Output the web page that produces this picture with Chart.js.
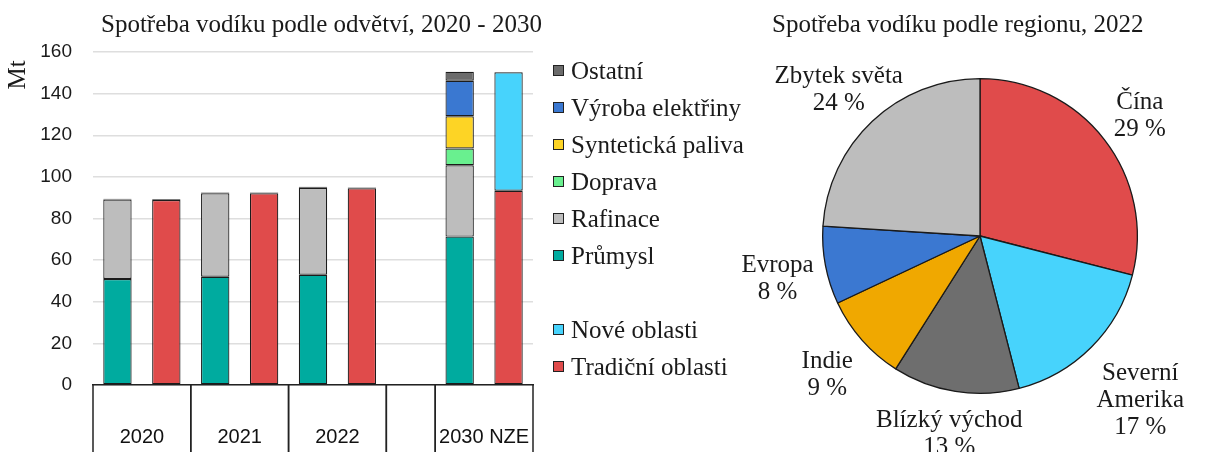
<!DOCTYPE html>
<html>
<head>
<meta charset="utf-8">
<script src="https://cdn.jsdelivr.net/npm/chart.js@4.4.1/dist/chart.umd.min.js"></script>
<style>
body { margin: 0; width: 1215px; height: 452px; overflow: hidden; background: #fff; position: relative; font-family: "Liberation Serif", "Times New Roman", serif; color: #1a1a1a; }
canvas { position: absolute; top: 0; }
#barChart { left: 0; }
#pieChart { left: 700px; }
.title { position: absolute; font-size: 25px; line-height: 28px; white-space: nowrap; }
#legend { position: absolute; left: 553px; top: 52px; }
.item { height: 37px; display: flex; align-items: center; font-size: 25px; white-space: nowrap; }
.box { width: 9px; height: 9px; border: 1px solid #222; margin-right: 7px; }
#mt { position: absolute; left: -3px; top: 61px; width: 40px; height: 28px; line-height: 28px; text-align: center; font-size: 25px; transform: rotate(-90deg); }
</style>
</head>
<body>
<canvas id="barChart" width="545" height="452"></canvas>
<canvas id="pieChart" width="515" height="452"></canvas>
<div class="title" style="left:101px; top:10px;">Spotřeba vodíku podle odvětví, 2020 - 2030</div>
<div class="title" style="left:772px; top:10px;">Spotřeba vodíku podle regionu, 2022</div>
<div id="mt">Mt</div>
<div id="legend"></div>
<script>
const categories = ['2020', '2021', '2022', '2030 NZE'];

// sector split (first bar of each year)
const prumysl = [50.9, 52.0, 53.0, 71.3];
const rafinace = [38.2, 40.1, 41.8, 34.3];
const doprava = [0, 0, 0, 8.0];
const syntetickaPaliva = [0, 0, 0, 15.5];
const vyrobaElektriny = [0, 0, 0, 17.1];
const ostatni = [0.4, 0.4, 0.4, 4.3];

// traditional vs new uses (second bar)
const tradicniOblasti = [88.9, 92.1, 94.5, 93.3];
const noveOblasti = [0.4, 0.4, 0.4, 57.0];

const yMin = 0, yMax = 160, yStep = 20;

const regions = ['Čína', 'Severní\nAmerika', 'Blízký východ', 'Indie', 'Evropa', 'Zbytek světa'];
const regionShares = [29, 17, 13, 9, 8, 24];

const sectorSeries = [
  { label: 'Průmysl', values: prumysl, color: '#00AB9F' },
  { label: 'Rafinace', values: rafinace, color: '#BDBDBD' },
  { label: 'Doprava', values: doprava, color: '#69F08F' },
  { label: 'Syntetická paliva', values: syntetickaPaliva, color: '#FDD425' },
  { label: 'Výroba elektřiny', values: vyrobaElektriny, color: '#3A78D1' },
  { label: 'Ostatní', values: ostatni, color: '#6B6B6B' }
];
const regionSeries = [
  { label: 'Tradiční oblasti', values: tradicniOblasti, color: '#E04B4B' },
  { label: 'Nové oblasti', values: noveOblasti, color: '#47D3FC' }
];
const pieColors = ['#E04B4B', '#47D3FC', '#6E6E6E', '#F0A800', '#3B78D1', '#BDBDBD'];

// two bar slots per year, one empty slot before the 2030 scenario
const slots = [];
categories.forEach((c, i) => {
  if (c === '2030 NZE') slots.push({ cat: null, kind: null });
  slots.push({ cat: i, kind: 'sector' });
  slots.push({ cat: i, kind: 'region' });
});

function slotData(values, kind) {
  return slots.map(s => (s.kind === kind && values[s.cat]) ? values[s.cat] : null);
}

const datasets = [];
sectorSeries.forEach(s => datasets.push({ label: s.label, data: slotData(s.values, 'sector'), backgroundColor: s.color }));
regionSeries.forEach(s => datasets.push({ label: s.label, data: slotData(s.values, 'region'), backgroundColor: s.color }));
datasets.forEach(d => {
  d.borderColor = '#1c1c1c';
  d.borderWidth = 1.2;
  d.borderSkipped = false;
  d.barPercentage = 0.58;
  d.categoryPercentage = 1;
  d.stack = 'all';
});

// html legend, sectors top-down, then a gap, then the region split
const legendItems = sectorSeries.slice().reverse().concat([null], regionSeries.slice().reverse());
const legendEl = document.getElementById('legend');
legendItems.forEach(s => {
  const row = document.createElement('div');
  row.className = 'item';
  if (s) row.innerHTML = '<span class="box" style="background:' + s.color + '"></span>' + s.label;
  legendEl.appendChild(row);
});

const groupAxis = {
  id: 'groupAxis',
  afterDraw(chart) {
    const x = chart.scales.x;
    const ctx = chart.ctx;
    const w = x.width / slots.length;
    const runs = [];
    slots.forEach((s, i) => {
      const last = runs[runs.length - 1];
      if (last && last.cat === s.cat) last.end = i;
      else runs.push({ cat: s.cat, start: i, end: i });
    });
    ctx.save();
    ctx.strokeStyle = '#222';
    ctx.lineWidth = 1.5;
    ctx.fillStyle = '#111';
    ctx.font = '20px "Liberation Sans", Arial, sans-serif';
    ctx.textAlign = 'center';
    ctx.textBaseline = 'middle';
    runs.forEach(r => {
      const l = x.left + r.start * w;
      const rr = x.left + (r.end + 1) * w;
      [l, rr].forEach(px => {
        ctx.beginPath();
        ctx.moveTo(px, x.top);
        ctx.lineTo(px, chart.height);
        ctx.stroke();
      });
      if (r.cat !== null) ctx.fillText(categories[r.cat], (l + rr) / 2, 437);
    });
    ctx.restore();
  }
};

new Chart(document.getElementById('barChart'), {
  type: 'bar',
  data: { labels: slots.map((s, i) => String(i)), datasets: datasets },
  options: {
    responsive: false,
    animation: false,
    layout: { padding: { top: 52, right: 12, left: 0, bottom: 0 } },
    plugins: { legend: { display: false }, tooltip: { enabled: false } },
    scales: {
      x: {
        stacked: true,
        grid: { display: false },
        border: { display: true, color: '#222', width: 1.5 },
        ticks: { display: false },
        afterFit(scale) { scale.height = 67; }
      },
      y: {
        stacked: true,
        min: yMin,
        max: yMax,
        ticks: { stepSize: yStep, padding: 21, color: '#1a1a1a', font: { family: '"Liberation Sans", Arial, sans-serif', size: 19 } },
        grid: { color: '#dedede', lineWidth: 1.5, drawTicks: false },
        border: { display: false },
        afterFit(scale) { scale.width = 93; }
      }
    }
  },
  plugins: [groupAxis]
});

const pieLabels = {
  id: 'pieLabels',
  afterDatasetsDraw(chart) {
    const ctx = chart.ctx;
    const meta = chart.getDatasetMeta(0);
    const lineH = 27;
    ctx.save();
    ctx.font = '25px "Liberation Serif", "Times New Roman", serif';
    ctx.fillStyle = '#1a1a1a';
    ctx.textAlign = 'center';
    ctx.textBaseline = 'middle';
    meta.data.forEach((arc, i) => {
      const p = arc.getProps(['x', 'y', 'startAngle', 'endAngle', 'outerRadius'], true);
      const mid = (p.startAngle + p.endAngle) / 2;
      const lines = chart.data.labels[i].split('\n').concat([chart.data.datasets[0].data[i] + ' %']);
      const hw = Math.max(...lines.map(t => ctx.measureText(t).width)) / 2;
      const hh = lines.length * lineH / 2;
      const c = Math.abs(Math.cos(mid)), s = Math.abs(Math.sin(mid));
      const d = Math.min(c > 0.001 ? hw / c : 1e9, s > 0.001 ? hh / s : 1e9);
      const r = p.outerRadius + 12 + d;
      const cx = p.x + Math.cos(mid) * r;
      const cy = p.y + Math.sin(mid) * r + 4;
      lines.forEach((t, k) => ctx.fillText(t, cx, cy - hh + lineH * (k + 0.5)));
    });
    ctx.restore();
  }
};

new Chart(document.getElementById('pieChart'), {
  type: 'pie',
  data: {
    labels: regions,
    datasets: [{ data: regionShares, backgroundColor: pieColors, borderColor: '#1a1a1a', borderWidth: 1.3 }]
  },
  options: {
    responsive: false,
    animation: false,
    layout: { padding: { left: 122, right: 77, top: 78, bottom: 58 } },
    plugins: { legend: { display: false }, tooltip: { enabled: false } }
  },
  plugins: [pieLabels]
});
</script>
</body>
</html>
